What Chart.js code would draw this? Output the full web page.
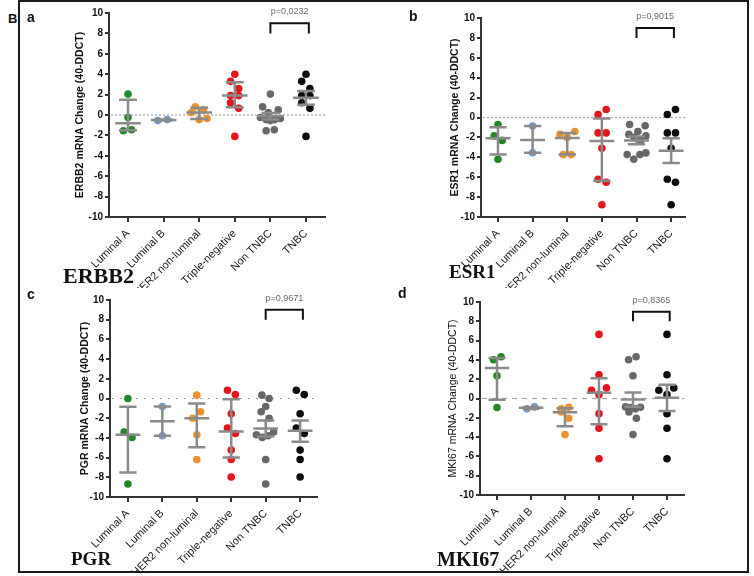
<!DOCTYPE html>
<html><head><meta charset="utf-8">
<script src="https://cdn.jsdelivr.net/npm/chart.js@4.4.1/dist/chart.umd.min.js"></script>
<style>
html,body{margin:0;padding:0;background:#fff;}
#wrap{position:relative;width:754px;height:576px;overflow:hidden;background:#fff;}
canvas{position:absolute;}
.frame{position:absolute;left:18px;top:0;width:731px;height:573px;box-sizing:border-box;border:2px solid #1a1a1a;pointer-events:none;z-index:5;}
.lbl{position:absolute;font-family:'Liberation Sans',Arial,sans-serif;font-weight:bold;line-height:1;color:#111;white-space:nowrap;z-index:4;}
.gene{position:absolute;font-family:'Liberation Serif','Times New Roman',serif;font-weight:bold;line-height:1;color:#111;white-space:nowrap;z-index:4;}
</style></head>
<body>
<div id="wrap">
  <canvas id="cA" width="357" height="288" style="left:20px;top:0px"></canvas>
  <canvas id="cB" width="372" height="288" style="left:377px;top:0px"></canvas>
  <canvas id="cC" width="357" height="285" style="left:20px;top:288px"></canvas>
  <canvas id="cD" width="372" height="285" style="left:377px;top:288px"></canvas>
  <div class="lbl" style="left:8px;top:12px;font-size:13px">B</div>
  <div class="lbl" style="left:27px;top:10px;font-size:14px">a</div>
  <div class="lbl" style="left:409px;top:9px;font-size:14px">b</div>
  <div class="lbl" style="left:27px;top:287px;font-size:14px">c</div>
  <div class="lbl" style="left:398px;top:286px;font-size:14px">d</div>
  <div class="gene" style="left:63px;top:265px;font-size:22px">ERBB2</div>
  <div class="gene" style="left:449px;top:262px;font-size:19px">ESR1</div>
  <div class="gene" style="left:71px;top:549px;font-size:19px">PGR</div>
  <div class="gene" style="left:437px;top:549px;font-size:20px">MKI67</div>
  <div class="frame"></div>
</div>
<script>
// ---------- data ----------
const categories = ['Luminal A', 'Luminal B', 'HER2 non-luminal', 'Triple-negative', 'Non TNBC', 'TNBC'];
const yTickValues = [-10, -8, -6, -4, -2, 0, 2, 4, 6, 8, 10];

// ERBB2 (panel a)
const erbb2Points = [
  [2.05, -0.25, -1.55, -1.45],
  [-0.55, -0.45],
  [0.8, 0.5, 0.25, -0.45, -0.35],
  [4.0, 3.3, 2.6, 1.9, 1.9, 1.2, 0.65, -2.1],
  [2.05, 0.8, 0.5, 0.25, -0.25, -0.35, -0.45, -0.45, -0.55, -1.45, -1.55],
  [4.0, 3.3, 2.6, 1.9, 1.9, 1.2, 0.65, -2.1]
];
const erbb2Center = [-0.8, -0.5, 0.25, 1.9, -0.12, 1.7];
const erbb2Upper  = [1.5, -0.45, 0.7, 3.2, 0.2, 2.35];
const erbb2Lower  = [-1.5, -0.55, -0.4, 0.75, -0.45, 1.0];
const erbb2P = 'p=0,0232';

// ESR1 (panel b)
const esr1Points = [
  [-0.7, -1.85, -2.3, -4.2],
  [-0.85, -3.55],
  [-1.7, -1.4, -2.0, -3.73, -3.73],
  [0.3, 0.8, -1.55, -1.55, -3.1, -6.2, -6.5, -8.77],
  [-0.7, -0.84, -1.4, -1.7, -1.85, -2.0, -2.3, -3.56, -3.73, -3.73, -4.2],
  [0.3, 0.8, -1.55, -1.55, -3.1, -6.2, -6.5, -8.77]
];
const esr1Center = [-2.08, -2.25, -2.05, -2.35, -2.32, -3.33];
const esr1Upper  = [-0.97, -0.85, -1.55, -0.1, -1.9, -2.08];
const esr1Lower  = [-3.73, -3.55, -3.73, -6.35, -2.7, -4.57];
const esr1P = 'p=0,9015';

// PGR (panel c)
const pgrPoints = [
  [0, -3.41, -3.95, -8.68],
  [-0.81, -3.78],
  [0.34, -1.35, -2.0, -3.68, -6.2],
  [0.84, 0.4, -1.55, -3.0, -3.55, -5.24, -6.2, -7.97],
  [0.34, 0, -0.81, -1.35, -2.0, -3.68, -3.95, -3.78, -3.41, -6.2, -8.68],
  [0.84, 0.4, -1.55, -3.0, -3.55, -5.24, -6.2, -7.97]
];
const pgrCenter = [-3.68, -2.3, -2.0, -3.34, -3.05, -3.28];
const pgrUpper  = [-0.84, -0.81, -0.5, -0.07, -2.23, -2.23];
const pgrLower  = [-7.5, -3.78, -4.95, -5.98, -3.87, -4.39];
const pgrP = 'p=0,9671';

// MKI67 (panel d)
const mki67Points = [
  [4.01, 4.33, 2.35, -0.93],
  [-1.07, -0.87],
  [-1.07, -0.9, -1.4, -2.04, -3.74],
  [6.64, 2.46, 0.85, 1.1, 0.4, -1.57, -3.08, -6.24],
  [4.01, 4.33, 2.35, -0.87, -0.9, -0.93, -1.07, -1.07, -1.4, -2.04, -3.74],
  [6.64, 2.46, 0.85, 1.1, 0.4, -1.57, -3.08, -6.24]
];
const mki67Center = [3.15, -0.97, -1.42, 0.59, -0.1, 0.07];
const mki67Upper  = [4.2, -0.9, -1.0, 2.11, 0.62, 1.42];
const mki67Lower  = [-0.12, -1.05, -2.87, -2.66, -0.85, -1.3];
const mki67P = 'p=0,8365';

// ---------- horizontal scatter offsets (layout, category units) ----------
const erbb2Jitter = [
  [0, 0, -0.13, 0.1], [-0.16, 0.1], [-0.11, 0.12, -0.22, 0, 0.22],
  [0, -0.12, 0.11, -0.12, 0.11, -0.12, 0.11, 0],
  [0, -0.22, 0.22, -0.06, -0.28, 0.28, -0.12, 0.12, 0, 0.11, -0.12],
  [0, -0.12, 0.11, -0.12, 0.11, -0.12, 0.11, 0]
];
const esr1Jitter = [
  [0, -0.11, 0.12, 0], [0, 0], [-0.21, 0.22, 0, -0.115, 0.115],
  [-0.11, 0.125, -0.11, 0.125, 0, -0.11, 0.125, 0],
  [-0.2, 0.25, 0.04, -0.22, 0.27, -0.07, 0.12, 0.27, -0.27, 0.1, -0.08],
  [-0.11, 0.125, -0.11, 0.125, 0, -0.11, 0.125, 0]
];
const pgrJitter = [
  [0, -0.11, 0.12, 0], [0, 0], [0, 0.11, -0.12, 0, 0],
  [-0.11, 0.12, 0, -0.11, 0.12, 0, 0, 0],
  [-0.11, 0.1, 0, -0.13, 0.1, -0.27, -0.1, 0.07, 0.23, 0, 0],
  [-0.11, 0.12, 0, -0.11, 0.12, 0, 0, 0]
];
const mki67Jitter = [
  [-0.1, 0.12, 0, 0], [-0.12, 0.1], [-0.11, 0.11, -0.11, 0.11, 0],
  [0, 0, -0.22, 0.22, 0, 0, 0, 0],
  [-0.13, 0.09, 0, -0.22, 0.22, -0.07, 0.07, -0.1, -0.12, 0.1, 0],
  [0, 0, -0.24, 0.2, 0, 0, 0, 0]
];

// ---------- styles ----------
const groupColors = ['#23872a', '#7399c6', '#ec922c', '#e5151c', '#676767', '#0d0d0d'];
Chart.defaults.font.family = "'Liberation Sans', Arial, sans-serif";

function makePlugin(cfg) {
  return {
    id: 'errbars',
    beforeDatasetsDraw(chart) {
      const {ctx, chartArea: a, scales: {y}} = chart;
      const py = y.getPixelForValue(0);
      ctx.save();
      ctx.strokeStyle = '#a5a5a5'; ctx.lineWidth = 1.2; ctx.setLineDash(cfg.zeroDash);
      ctx.beginPath(); ctx.moveTo(a.left + 2, py); ctx.lineTo(a.right, py); ctx.stroke();
      ctx.restore();
    },
    afterDatasetsDraw(chart) {
      const {ctx, scales: {x, y}} = chart;
      const cw = x.getPixelForValue(1) - x.getPixelForValue(0);
      ctx.save();
      ctx.strokeStyle = '#8a8a8a'; ctx.lineWidth = 2.5;
      cfg.center.forEach((c, i) => {
        const px = x.getPixelForValue(i);
        const pc = y.getPixelForValue(c), pu = y.getPixelForValue(cfg.upper[i]), pl = y.getPixelForValue(cfg.lower[i]);
        ctx.beginPath();
        ctx.moveTo(px, pu); ctx.lineTo(px, pl);
        ctx.moveTo(px - cw * 0.36, pc); ctx.lineTo(px + cw * 0.36, pc);
        ctx.moveTo(px - cw * 0.25, pu); ctx.lineTo(px + cw * 0.25, pu);
        ctx.moveTo(px - cw * 0.25, pl); ctx.lineTo(px + cw * 0.25, pl);
        ctx.stroke();
      });
      const x1 = x.getPixelForValue(4), x2 = x.getPixelForValue(5.08);
      const yb = y.getPixelForValue(8), yt = y.getPixelForValue(9);
      ctx.strokeStyle = '#111'; ctx.lineWidth = 2;
      ctx.beginPath(); ctx.moveTo(x1, yb); ctx.lineTo(x1, yt); ctx.lineTo(x2, yt); ctx.lineTo(x2, yb); ctx.stroke();
      ctx.fillStyle = '#6a6a6a'; ctx.font = "9px 'Liberation Sans', Arial, sans-serif";
      ctx.textAlign = 'center'; ctx.textBaseline = 'middle';
      ctx.fillText(cfg.pText, (x1 + x2) / 2, y.getPixelForValue(10) - 1);
      ctx.restore();
    }
  };
}

function makeChart(id, cfg) {
  const datasets = categories.map((c, i) => ({
    label: c,
    data: cfg.points[i].map((v, j) => ({x: i + cfg.jitter[i][j], y: v})),
    backgroundColor: groupColors[i],
    borderColor: groupColors[i],
    borderWidth: 0,
    pointRadius: 3.8,
    pointHoverRadius: 3.8
  }));
  const axisGrid = (len) => ({display: true, drawOnChartArea: false, drawTicks: true, tickLength: len, color: '#333', lineWidth: 2});
  new Chart(document.getElementById(id), {
    type: 'scatter',
    data: {datasets},
    plugins: [makePlugin(cfg)],
    options: {
      responsive: false, animation: false,
      layout: {padding: {left: cfg.padL, right: cfg.padR, top: cfg.padT, bottom: 0}},
      plugins: {legend: {display: false}, tooltip: {enabled: false}},
      scales: {
        x: {
          type: 'linear', min: cfg.xmin, max: cfg.xmax,
          afterBuildTicks: s => { s.ticks = categories.map((c, i) => ({value: i})); },
          afterFit: s => { s.height = cfg.xH; },
          ticks: {autoSkip: false, minRotation: 45, maxRotation: 45, padding: 5, color: '#1a1a1a',
                  font: {size: 11}, callback: v => categories[v]},
          grid: axisGrid(5),
          border: {display: true, color: '#333', width: 2}
        },
        y: {
          min: -10, max: 10,
          afterBuildTicks: s => { s.ticks = yTickValues.map(v => ({value: v})); },
          afterFit: s => { s.width = cfg.yW; },
          ticks: {color: '#111', padding: 2, font: {size: 10, weight: 'bold'}},
          grid: axisGrid(4),
          border: {display: true, color: '#333', width: 2},
          title: {display: true, text: cfg.yTitle, color: '#111', padding: {top: 4, bottom: 0},
                  font: {size: cfg.titleSize, weight: cfg.titleWeight}}
        }
      }
    }
  });
}

makeChart('cA', {points: erbb2Points, jitter: erbb2Jitter, center: erbb2Center, upper: erbb2Upper, lower: erbb2Lower,
  pText: erbb2P, yTitle: 'ERBB2 mRNA Change (40-DDCT)', titleSize: 10.5, titleWeight: 'bold',
  padL: 50, yW: 39, padR: 52, padT: 13, xH: 71, xmin: -0.534, xmax: 5.534, zeroDash: [2, 2]});
makeChart('cB', {points: esr1Points, jitter: esr1Jitter, center: esr1Center, upper: esr1Upper, lower: esr1Lower,
  pText: esr1P, yTitle: 'ESR1 mRNA Change (40-DDCT)', titleSize: 10.5, titleWeight: 'bold',
  padL: 68, yW: 36, padR: 64, padT: 18, xH: 71, xmin: -0.49, xmax: 5.40, zeroDash: [2, 2]});
makeChart('cC', {points: pgrPoints, jitter: pgrJitter, center: pgrCenter, upper: pgrUpper, lower: pgrLower,
  pText: pgrP, yTitle: 'PGR mRNA Change (40-DDCT)', titleSize: 10.5, titleWeight: 'bold',
  padL: 55, yW: 35, padR: 60, padT: 12, xH: 76, xmin: -0.52, xmax: 5.49, zeroDash: [2, 6]});
makeChart('cD', {points: mki67Points, jitter: mki67Jitter, center: mki67Center, upper: mki67Upper, lower: mki67Lower,
  pText: mki67P, yTitle: 'MKI67 mRNA Change (40-DDCT)', titleSize: 10.5, titleWeight: 'normal',
  padL: 66, yW: 37, padR: 65, padT: 14, xH: 78, xmin: -0.5, xmax: 5.5, zeroDash: [5, 5]});
</script>
</body></html>
